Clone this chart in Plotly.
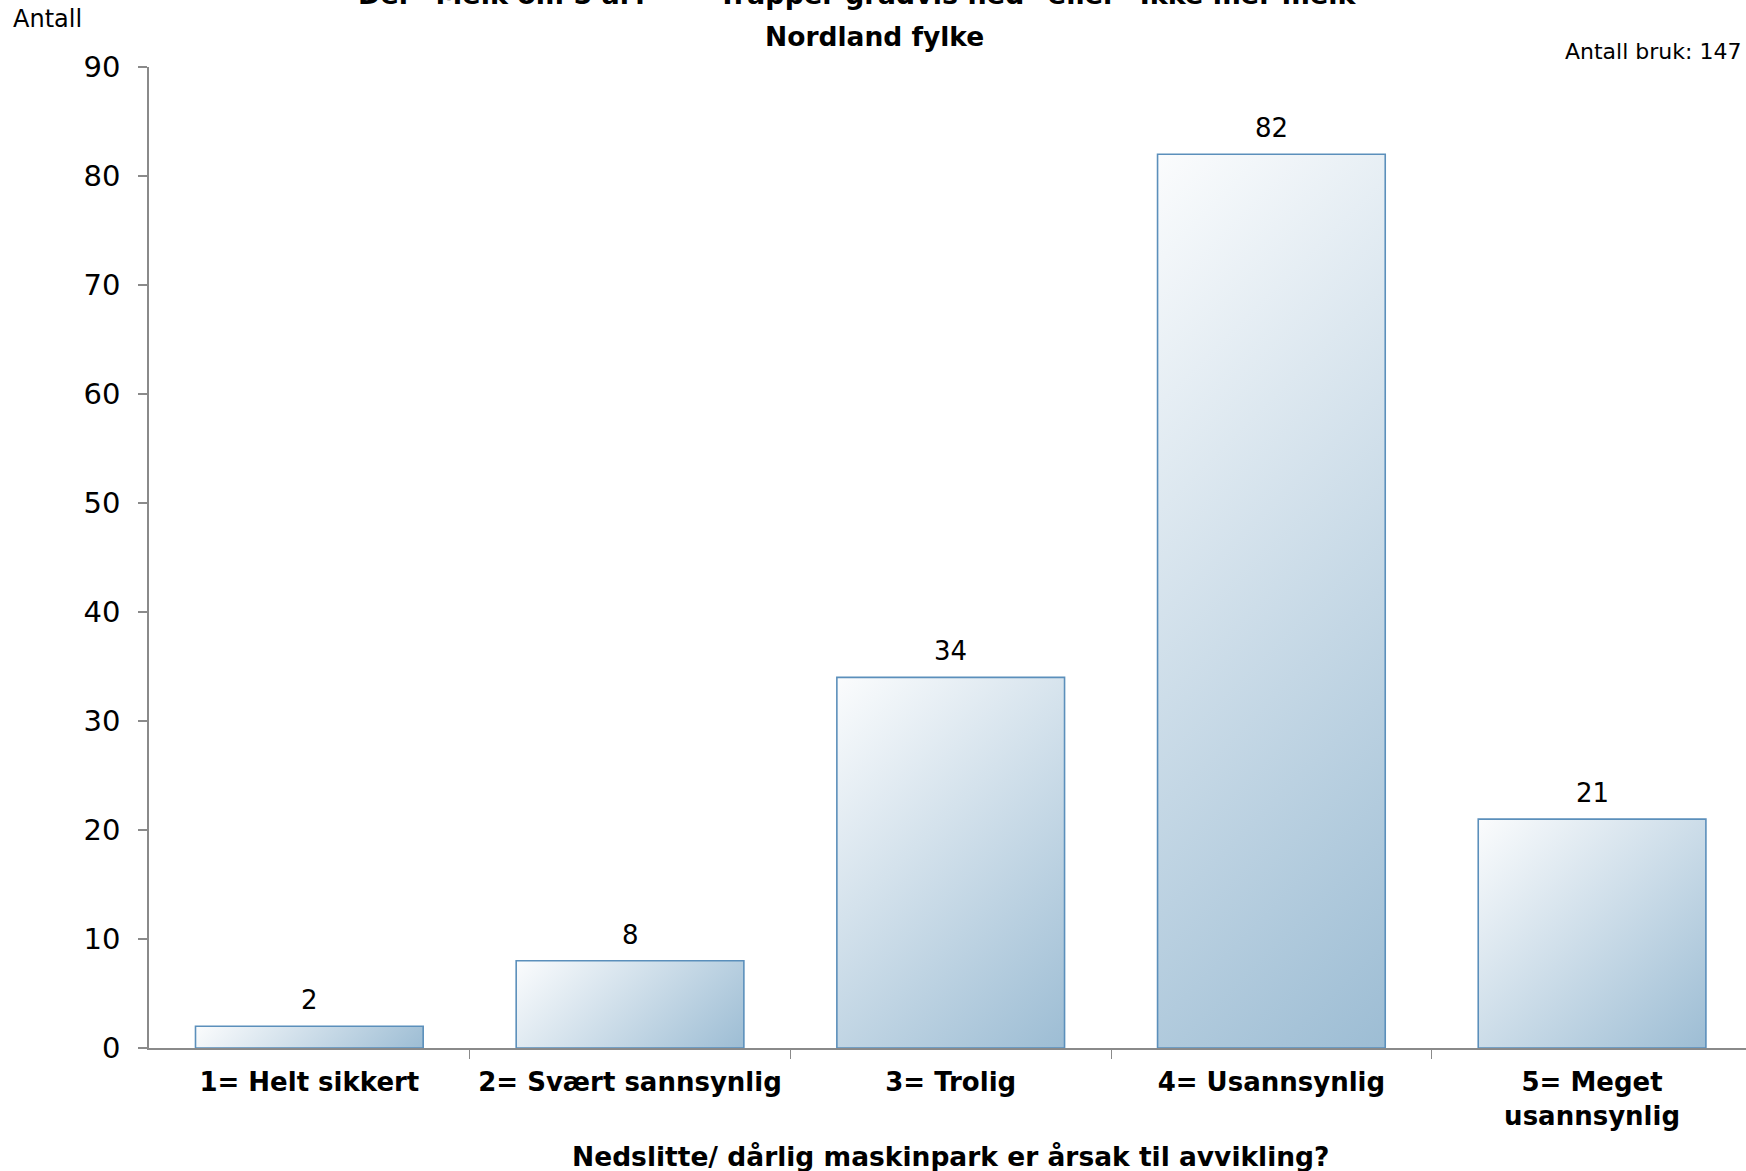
import base64
import plotly.graph_objects as go

categories = ["1= Helt sikkert", "2= Svært sannsynlig", "3= Trolig", "4= Usannsynlig", "5= Meget<br>usannsynlig"]
values = [2, 8, 34, 82, 21]
y_ticks = [0, 10, 20, 30, 40, 50, 60, 70, 80, 90]

title_line1 = 'Der "Melk om 5 år?" = "Trapper gradvis ned" eller "Ikke mer melk"'
title_line2 = "Nordland fylke"
y_label = "Antall"
count_note = "Antall bruk: 147"
x_title = "Nedslitte/ dårlig maskinpark er årsak til avvikling?"

FONT = "DejaVu Sans, Verdana, sans-serif"
W, H = 1746, 1171
ML, MR, MT, MB = 149, 0, 67, 123
X_RANGE = [-0.5, 4.48]
Y_RANGE = [0, 90]
BAR_W = 0.71
xs = list(range(len(categories)))

px_per_cat = (W - ML - MR) / (X_RANGE[1] - X_RANGE[0])
px_per_unit = (H - MT - MB) / (Y_RANGE[1] - Y_RANGE[0])


def gradient_src(wpx, hpx):
    d = (wpx + hpx) / 2
    svg = ('<svg xmlns="http://www.w3.org/2000/svg" width="%.1f" height="%.1f" viewBox="0 0 %.1f %.1f" '
           'preserveAspectRatio="none"><defs><linearGradient id="g" gradientUnits="userSpaceOnUse" '
           'x1="0" y1="0" x2="%.1f" y2="%.1f">'
           '<stop offset="0" stop-color="#fbfcfd"/><stop offset="1" stop-color="#9dbdd4"/>'
           '</linearGradient></defs><rect width="%.1f" height="%.1f" fill="url(#g)"/></svg>'
           % (wpx, hpx, wpx, hpx, d, d, wpx, hpx))
    return "data:image/svg+xml;base64," + base64.b64encode(svg.encode()).decode()


fig = go.Figure()
fig.add_trace(go.Bar(
    x=xs, y=values, width=BAR_W,
    marker=dict(color="rgba(0,0,0,0)", line=dict(color="#5b8fbb", width=1.6)),
    hoverinfo="x+y",
))

images = []
for x, v in zip(xs, values):
    images.append(dict(source=gradient_src(BAR_W * px_per_cat, v * px_per_unit),
                       xref="x", yref="y", x=x - BAR_W / 2, y=v,
                       sizex=BAR_W, sizey=v, sizing="stretch", xanchor="left", yanchor="top",
                       layer="below"))

annotations = []
for x, v in zip(xs, values):
    annotations.append(dict(x=x, y=v, xref="x", yref="y", text=str(v), showarrow=False,
                            yanchor="bottom", yshift=9, font=dict(family=FONT, size=26, color="#000")))

annotations += [
    dict(text="<b>" + title_line1 + "</b>", xref="paper", yref="paper", x=0.4476, y=1.0735,
         xanchor="center", yanchor="middle", showarrow=False, font=dict(family=FONT, size=27, color="#000")),
    dict(text="<b>" + title_line2 + "</b>", xref="paper", yref="paper", x=0.4546, y=1.0306,
         xanchor="center", yanchor="middle", showarrow=False, font=dict(family=FONT, size=26.5, color="#000")),
    dict(text=y_label, xref="paper", yref="paper", x=-0.0864, y=1.0489,
         xanchor="left", yanchor="middle", showarrow=False, font=dict(family=FONT, size=24, color="#000")),
    dict(text=count_note, xref="paper", yref="paper", x=0.998, y=1.0163,
         xanchor="right", yanchor="middle", showarrow=False, font=dict(family=FONT, size=22, color="#000")),
    dict(text="<b>" + x_title + "</b>", xref="paper", yref="paper", x=0.502, y=-0.1101,
         xanchor="center", yanchor="middle", showarrow=False, font=dict(family=FONT, size=26.5, color="#000")),
]

fig.update_layout(
    width=W, height=H,
    margin=dict(l=ML, r=MR, t=MT, b=MB, pad=0),
    paper_bgcolor="white", plot_bgcolor="white",
    showlegend=False,
    images=images,
    annotations=annotations,
    font=dict(family=FONT, color="#000"),
)
fig.update_xaxes(
    range=X_RANGE, tickvals=xs, ticktext=["<b>" + c + "</b>" for c in categories],
    ticks="", showline=True, linecolor="#8a8a8a", linewidth=1.5, showgrid=False, zeroline=False,
    tickfont=dict(family=FONT, size=26, color="#000"),
    minor=dict(tickvals=[x + 0.5 for x in xs[:-1]], ticks="outside", ticklen=9, tickcolor="#8a8a8a", tickwidth=1.2),
    ticklabelstandoff=10, fixedrange=True,
)
fig.update_yaxes(
    range=Y_RANGE, tickvals=y_ticks, ticks="outside", ticklen=9, tickcolor="#8a8a8a", tickwidth=1.5,
    showline=True, linecolor="#8a8a8a", linewidth=1.5, showgrid=False, zeroline=False,
    tickfont=dict(family=FONT, size=29, color="#000"), ticklabelstandoff=12, fixedrange=True,
)

fig.write_html("out.html", config={"displayModeBar": False},
               post_script="document.body.style.margin='0';document.body.style.overflow='hidden';")
